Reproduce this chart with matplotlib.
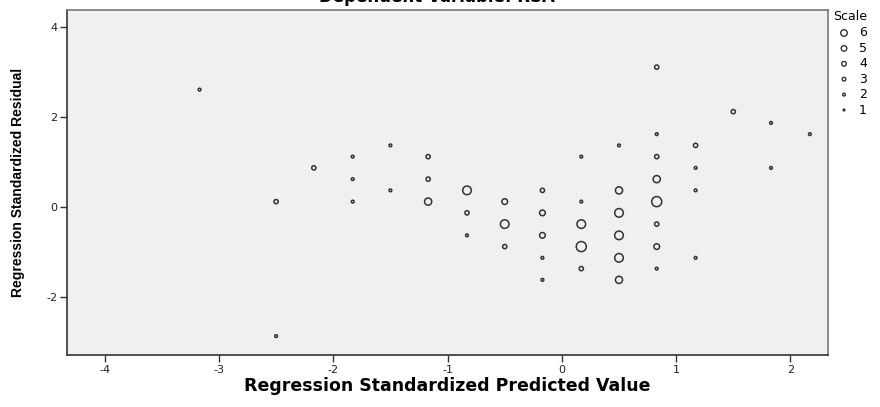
import numpy as np
import matplotlib
matplotlib.use("Agg")
from matplotlib import pyplot as plt

# Data: predicted value, residual, scale (count)
pred = [-3.17, -2.50, -2.50, -2.17,
        -1.83, -1.83, -1.83, -1.50, -1.50,
        -1.17, -1.17, -1.17,
        -0.83, -0.83, -0.83,
        -0.50, -0.50, -0.50,
        -0.17, -0.17, -0.17, -0.17, -0.17,
        0.17, 0.17, 0.17, 0.17, 0.17,
        0.50, 0.50, 0.50, 0.50, 0.50, 0.50,
        0.83, 0.83, 0.83, 0.83, 0.83, 0.83, 0.83, 0.83,
        1.17, 1.17, 1.17, 1.17,
        1.50, 1.83, 1.83, 2.17]
resid = [2.61, 0.12, -2.87, 0.87,
         1.12, 0.62, 0.12, 1.37, 0.37,
         1.12, 0.62, 0.12,
         0.37, -0.13, -0.63,
         0.12, -0.38, -0.88,
         0.37, -0.13, -0.63, -1.13, -1.62,
         1.12, 0.12, -0.38, -0.88, -1.37,
         1.37, 0.37, -0.13, -0.63, -1.13, -1.62,
         3.11, 1.62, 1.12, 0.62, 0.12, -0.38, -0.88, -1.37,
         1.37, 0.87, 0.37, -1.13,
         2.12, 1.87, 0.87, 1.62]
scale = [1, 2, 1, 2,
         1, 1, 1, 1, 1,
         2, 2, 4,
         5, 2, 1,
         3, 5, 2,
         2, 3, 3, 1, 1,
         1, 1, 5, 6, 2,
         1, 4, 5, 5, 5, 4,
         2, 1, 2, 4, 6, 2, 3, 1,
         2, 1, 1, 1,
         2, 1, 1, 1]
legend_levels = [6, 5, 4, 3, 2, 1]

x_ticks = [-4, -3, -2, -1, 0, 1, 2]
y_ticks = [-2, 0, 2, 4]


def marker_area(k):
    # diameter grows with the count, in points
    d = 2.0 + (np.asarray(k) - 1) * 1.05
    return d ** 2


plt.rcParams['font.family'] = ['DejaVu Sans']
plt.rcParams['axes.unicode_minus'] = False

fig = plt.figure(figsize=(8.8, 4.07), dpi=100)
ax = fig.add_axes([0.0761, 0.1278, 0.8650, 0.8476])
ax.set_facecolor('#f0f0f0')

ax.scatter(pred, resid, s=marker_area(scale), facecolors='none',
           edgecolors='#333333', linewidths=1.1, zorder=3)

ax.set_xlim(-4.33, 2.33)
ax.set_ylim(-3.29, 4.38)
ax.set_xticks(x_ticks)
ax.set_yticks(y_ticks)
ax.tick_params(direction='out', length=5, width=1, color='#333333',
               labelsize=8, labelcolor='#222222', pad=2)
for side in ['left', 'bottom']:
    ax.spines[side].set_color('#333333')
    ax.spines[side].set_linewidth(1.2)
for side in ['top', 'right']:
    ax.spines[side].set_color('#777777')
    ax.spines[side].set_linewidth(1.2)

ax.set_xlabel('Regression Standardized Predicted Value', fontsize=12.5,
              fontweight='bold', va='top')
ax.xaxis.set_label_coords(0.5, -0.064)
ax.set_ylabel('Regression Standardized Residual', fontsize=10,
              fontweight='bold', family=['Liberation Sans', 'DejaVu Sans'])
ax.yaxis.set_label_coords(-0.055, 0.5)

# title sits partly above the top edge, as in the source
fig.text(0.496, 1 - 2 / 407, 'Dependent Variable: RSA', ha='center',
         va='baseline', fontsize=12, fontweight='bold')

# size legend on the right, laid out in pixel units
leg = fig.add_axes([0, 0, 1, 1])
leg.set_axis_off()
leg.set_xlim(0, 880)
leg.set_ylim(407, 0)
leg.text(833, 16, 'Scale', fontsize=9, va='center', ha='left')
rows = np.linspace(33, 110, len(legend_levels))
leg.scatter([844] * len(legend_levels), rows, s=marker_area(legend_levels) * 0.42,
            facecolors='none', edgecolors='#333333', linewidths=1.0)
for yy, lv in zip(rows, legend_levels):
    leg.text(859, yy, str(lv), fontsize=9, va='center', ha='left')

fig.savefig('out.png', dpi=100)
